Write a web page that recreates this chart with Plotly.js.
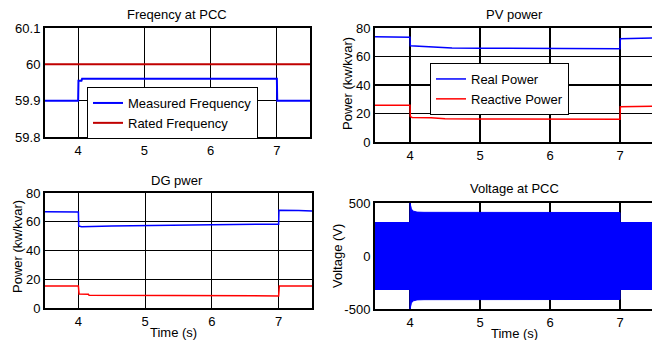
<!DOCTYPE html>
<html>
<head>
<meta charset="utf-8">
<script src="https://cdn.plot.ly/plotly-3.0.1.min.js"></script>
<style>
html,body{margin:0;padding:0;overflow:hidden;background:#fff;width:652px;height:340px;}
#chart{width:660px;height:340px;}
</style>
</head>
<body>
<div id="chart"></div>
<script>
// ---- Data ----
// Frequency at PCC
const freqTime      = [3.5, 3.8, 4.0, 4.005, 4.05, 4.06, 5.0, 6.0, 7.0, 7.005, 7.3, 7.5];
const measuredFreq  = [59.90, 59.90, 59.90, 59.955, 59.955, 59.96, 59.96, 59.96, 59.96, 59.90, 59.90, 59.90];
const ratedTime     = [3.5, 7.5];
const ratedFreq     = [60, 60];

// PV power
const pvRealTime    = [3.5, 3.8, 4.0, 4.005, 4.2, 4.3, 4.6, 5.0, 6.0, 7.0, 7.005, 7.5];
const pvReal        = [73.8, 73.6, 73.5, 67.5, 67.0, 66.3, 66.0, 65.8, 65.5, 65.5, 72.5, 73.0];
const pvReactTime   = [3.5, 4.0, 4.005, 4.03, 4.3, 4.5, 5.0, 6.0, 7.0, 7.005, 7.5];
const pvReactive    = [25.8, 25.8, 17.8, 17.2, 17.0, 16.3, 16.1, 16.0, 15.9, 24.8, 25.2];

// DG power
const dgRealTime    = [3.5, 4.0, 4.005, 4.05, 4.5, 5.0, 6.0, 7.0, 7.005, 7.3, 7.5];
const dgReal        = [67.0, 66.8, 57.0, 56.6, 57.0, 57.5, 58.0, 58.3, 68.0, 67.9, 67.5];
const dgReactTime   = [3.5, 4.0, 4.01, 4.15, 4.16, 5.0, 6.0, 7.0, 7.01, 7.5];
const dgReactive    = [15.3, 15.3, 9.8, 9.6, 8.8, 8.7, 8.4, 8.4, 15.3, 15.3];

// Voltage at PCC (envelope of the 60 Hz waveform)
const voltTime      = [3.5, 3.999, 4.0, 4.01, 4.02, 4.04, 4.07, 4.1, 4.2, 5.0, 6.0, 7.0, 7.001, 7.5];
const voltUpper     = [316, 316, 500, 470, 445, 425, 418, 414, 412, 410, 410, 410, 316, 316];
const voltLower     = [-316, -316, -500, -470, -445, -425, -418, -414, -412, -410, -410, -410, -316, -316];

// Tick labels
const timeTicks     = [4, 5, 6, 7];
const timeLabels    = ['4', '5', '6', '7'];
const freqTicks     = [59.8, 59.9, 60, 60.1];
const freqLabels    = ['59.8', '59.9', '60', '60.1'];
const powerTicks    = [0, 20, 40, 60, 80];
const powerLabels   = ['0', '20', '40', '60', '80'];
const voltTicks     = [-500, 0, 500];
const voltLabels    = ['-500', '0', '500'];

// ---- Layout helpers ----
const W = 660, H = 340;
const px = x => x / W;
const py = y => 1 - y / H;
const FONT = 'Liberation Sans, Arial, sans-serif';
const BLUE = '#0000ff', RED = '#ff0000', DARKRED = '#c00000';

function axisBase(extra) {
  return Object.assign({
    showline: true, mirror: true, linecolor: '#000', linewidth: 2,
    showgrid: true, gridcolor: '#000', gridwidth: 1.2,
    zeroline: false, ticks: '', tickmode: 'array',
    tickfont: {family: FONT, size: 13, color: '#000'},
    fixedrange: true
  }, extra);
}

const traces = [
  {x: freqTime, y: measuredFreq, xaxis: 'x', yaxis: 'y', mode: 'lines', name: 'Measured Frequency',
   line: {color: BLUE, width: 2}, legend: 'legend'},
  {x: ratedTime, y: ratedFreq, xaxis: 'x', yaxis: 'y', mode: 'lines', name: 'Rated Frequency',
   line: {color: DARKRED, width: 2}, legend: 'legend'},
  {x: pvRealTime, y: pvReal, xaxis: 'x2', yaxis: 'y2', mode: 'lines', name: 'Real Power',
   line: {color: BLUE, width: 1.5}, legend: 'legend2'},
  {x: pvReactTime, y: pvReactive, xaxis: 'x2', yaxis: 'y2', mode: 'lines', name: 'Reactive Power',
   line: {color: RED, width: 1.5}, legend: 'legend2'},
  {x: dgRealTime, y: dgReal, xaxis: 'x3', yaxis: 'y3', mode: 'lines', showlegend: false,
   line: {color: BLUE, width: 1.5}},
  {x: dgReactTime, y: dgReactive, xaxis: 'x3', yaxis: 'y3', mode: 'lines', showlegend: false,
   line: {color: RED, width: 1.5}},
  {x: voltTime, y: voltUpper, xaxis: 'x4', yaxis: 'y4', mode: 'lines', showlegend: false,
   line: {color: BLUE, width: 1}},
  {x: voltTime, y: voltLower, xaxis: 'x4', yaxis: 'y4', mode: 'lines', showlegend: false,
   fill: 'tonexty', fillcolor: BLUE, line: {color: BLUE, width: 1}}
];

function ann(text, x, y, extra) {
  return Object.assign({text: text, x: px(x), y: py(y), xref: 'paper', yref: 'paper',
    xanchor: 'center', yanchor: 'middle', showarrow: false,
    font: {family: FONT, size: 13, color: '#000'}}, extra || {});
}

const legendStyle = {xanchor: 'left', yanchor: 'top', bgcolor: '#fff', traceorder: 'normal',
  bordercolor: '#000', borderwidth: 1, font: {family: FONT, size: 13, color: '#000'},
  tracegroupgap: 0, itemwidth: 30};

const layout = {
  width: W, height: H,
  margin: {l: 0, r: 0, t: 0, b: 0},
  paper_bgcolor: '#fff', plot_bgcolor: '#fff',
  font: {family: FONT, size: 13, color: '#000'},
  xaxis:  axisBase({domain: [px(45), px(310)], range: [3.5, 7.5], anchor: 'y', tickvals: timeTicks, ticktext: timeLabels}),
  yaxis:  axisBase({domain: [py(137), py(28)], range: [59.8, 60.1], anchor: 'x', tickvals: freqTicks, ticktext: freqLabels}),
  xaxis2: axisBase({domain: [px(375), px(655)], range: [3.5, 7.5], anchor: 'y2', tickvals: timeTicks, ticktext: timeLabels}),
  yaxis2: axisBase({domain: [py(142), py(28)], range: [0, 80], anchor: 'x2', tickvals: powerTicks, ticktext: powerLabels}),
  xaxis3: axisBase({domain: [px(45), px(312)], range: [3.5, 7.5], anchor: 'y3', tickvals: timeTicks, ticktext: timeLabels}),
  yaxis3: axisBase({domain: [py(308), py(193)], range: [0, 80], anchor: 'x3', tickvals: powerTicks, ticktext: powerLabels}),
  xaxis4: axisBase({domain: [px(375), px(655)], range: [3.5, 7.5], anchor: 'y4', tickvals: timeTicks, ticktext: timeLabels}),
  yaxis4: axisBase({domain: [py(309), py(203)], range: [-500, 500], anchor: 'x4', tickvals: voltTicks, ticktext: voltLabels}),
  legend:  Object.assign({x: px(87), y: py(87)}, legendStyle),
  legend2: Object.assign({x: px(430), y: py(63)}, legendStyle),
  annotations: [
    ann('Freqency at PCC', 177, 15),
    ann('PV power', 514, 15),
    ann('DG pwer', 177, 180),
    ann('Voltage at PCC', 514, 188),
    ann('Power (kw/kvar)', 347, 84, {textangle: -90}),
    ann('Power (kw/kvar)', 17, 247, {textangle: -90}),
    ann('Voltage (V)', 337, 256, {textangle: -90}),
    ann('Time (s)', 174, 332),
    ann('Time (s)', 514, 333)
  ],
  showlegend: true
};

Plotly.newPlot('chart', traces, layout, {staticPlot: true, displayModeBar: false});
</script>
</body>
</html>
